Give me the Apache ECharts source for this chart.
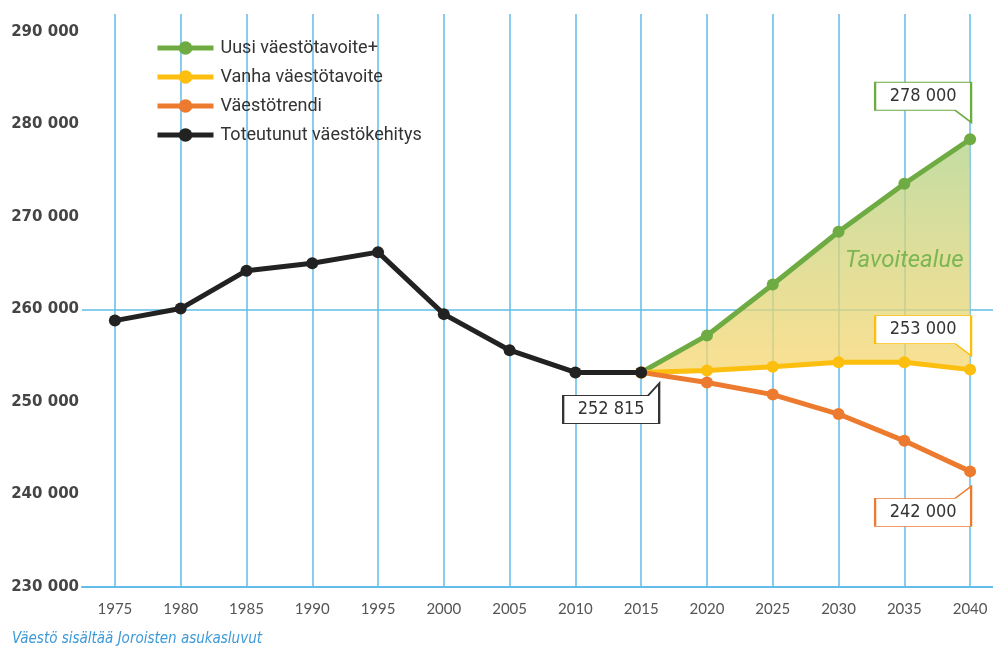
<!DOCTYPE html>
<html lang="fi">
<head>
    <meta charset="UTF-8">
    <title>Väestötavoite</title>
    <script type="text/javascript" src="https://cdn.jsdelivr.net/npm/echarts@6/dist/echarts.min.js"></script>
    <style>
        html, body { margin: 0; padding: 0; background: #fff; }
    </style>
</head>
<body>

    <div id="chart" style="width:993px;height:651px;"></div>

<script type="text/javascript">

    // vuodet (x-akseli)
    var years = ['1975', '1980', '1985', '1990', '1995', '2000', '2005', '2010', '2015', '2020', '2025', '2030', '2035', '2040'];

    // toteutunut kehitys
    var toteutunut = [258800, 260100, 264200, 265000, 266200, 259500, 255600, 253200, 253200, null, null, null, null, null];
    // ennusteet 2015 ->
    var uusiTavoite = [null, null, null, null, null, null, null, null, 253200, 257200, 262700, 268400, 273600, 278400];
    var vanhaTavoite = [null, null, null, null, null, null, null, null, 253200, 253400, 253800, 254300, 254300, 253500];
    var trendi = [null, null, null, null, null, null, null, null, 253200, 252100, 250800, 248700, 245800, 242500];

    // y-akselin tikit
    var yTicks = [230000, 240000, 250000, 260000, 270000, 280000, 290000];

    // puhekuplien arvot
    var calloutValues = [278000, 253000, 242000, 252815];

    var names = ['Uusi väestötavoite+', 'Vanha väestötavoite', 'Väestötrendi', 'Toteutunut väestökehitys'];

    var blue = '#62bde8';
    var narrow = '"DejaVu Sans Condensed", Roboto, sans-serif';

    function fmt(v) {
        return String(v).replace(/\B(?=(\d{3})+(?!\d))/g, ' ');
    }

    // tavoitealue = vihreän ja keltaisen väli (pinottuna)
    var bandBase = vanhaTavoite.map(function (v) { return v; });
    var bandDiff = uusiTavoite.map(function (v, i) {
        return v == null ? null : v - vanhaTavoite[i];
    });

    var tailDown = 'path://M0,0 L96,0 L96,40 L80,28 L0,28 Z';
    var tailUp = 'path://M0,12 L80,12 L96,0 L96,40 L0,40 Z';

    function calloutLabel(idx, labelOffset) {
        return {
            show: true,
            position: 'inside',
            offset: labelOffset,
            formatter: fmt(calloutValues[idx]),
            color: '#333',
            fontFamily: narrow,
            fontSize: 18
        };
    }

    function callout(idx, coordY, color, path, offset, labelOffset) {
        return {
            silent: true,
            animation: false,
            data: [{
                coord: [years.length - 1, coordY],
                symbol: path,
                symbolSize: [96, 40],
                symbolKeepAspect: false,
                symbolOffset: offset,
                itemStyle: { color: '#fff', borderColor: color, borderWidth: 1.5 },
                label: calloutLabel(idx, labelOffset)
            }]
        };
    }

    var dom = document.getElementById('chart');
    var myChart = echarts.init(dom, null, { renderer: 'canvas' });

    var option = {
        animation: false,
        backgroundColor: '#fff',
        grid: {
            left: 82,
            width: 921,
            top: 32,
            bottom: 64,
            outerBoundsMode: 'none',
            containLabel: false
        },
        legend: {
            data: names,
            orient: 'vertical',
            left: 150,
            top: 34,
            itemWidth: 56,
            itemHeight: 17,
            itemGap: 11,
            lineStyle: { width: 5 },
            textStyle: {
                color: '#333',
                fontSize: 18,
                lineHeight: 17,
                fontFamily: 'Roboto, sans-serif',
                padding: [0, 0, 0, 2]
            }
        },
        xAxis: {
            type: 'category',
            data: years,
            boundaryGap: true,
            axisLine: { show: true, lineStyle: { color: blue, width: 2 } },
            axisTick: {
                show: true,
                alignWithLabel: true,
                inside: true,
                length: 573,
                lineStyle: { color: blue, width: 1.5 }
            },
            splitLine: { show: false },
            axisLabel: {
                color: '#555',
                fontSize: 15,
                fontFamily: 'Lato, sans-serif',
                margin: 15
            }
        },
        yAxis: {
            type: 'value',
            min: yTicks[0],
            max: yTicks[yTicks.length - 1],
            interval: 10000,
            axisLine: { show: false },
            axisTick: { show: false },
            splitLine: {
                show: true,
                lineStyle: {
                    // vain 260 000 -viiva näkyy
                    color: yTicks.map(function (t) { return t === 260000 ? blue : 'rgba(0,0,0,0)'; }),
                    width: 1.5
                }
            },
            axisLabel: {
                color: '#454545',
                fontSize: 15,
                fontWeight: 'bold',
                fontFamily: '"DejaVu Sans", sans-serif',
                margin: 3,
                formatter: function (v) { return fmt(v); }
            }
        },
        graphic: [{
            type: 'text',
            left: 12,
            top: 632,
            style: {
                text: 'Väestö sisältää Joroisten asukasluvut',
                fill: '#3d9ad8',
                font: 'italic 15px ' + narrow
            }
        }],
        series: [
            {
                name: 'base',
                type: 'line',
                data: bandBase,
                stack: 'band',
                symbol: 'none',
                lineStyle: { opacity: 0 },
                silent: true,
                z: 1
            },
            {
                name: 'band',
                type: 'line',
                data: bandDiff,
                stack: 'band',
                symbol: 'none',
                lineStyle: { opacity: 0 },
                silent: true,
                z: 1,
                areaStyle: {
                    opacity: 1,
                    color: new echarts.graphic.LinearGradient(0, 0, 0, 1, [
                        { offset: 0, color: 'rgba(180, 212, 140, 0.8)' },
                        { offset: 1, color: 'rgba(248, 214, 110, 0.75)' }
                    ])
                },
                markPoint: {
                    silent: true,
                    data: [{
                        coord: [12, 265200],
                        symbol: 'circle',
                        symbolSize: 0,
                        label: {
                            show: true,
                            position: 'inside',
                            formatter: 'Tavoitealue',
                            color: '#7cb653',
                            fontSize: 24,
                            fontStyle: 'italic',
                            fontFamily: 'Roboto, sans-serif'
                        }
                    }]
                }
            },
            {
                name: names[0],
                type: 'line',
                data: uusiTavoite,
                color: '#6eab43',
                symbol: 'circle',
                symbolSize: 12,
                lineStyle: { width: 5 },
                z: 3,
                markPoint: callout(0, uusiTavoite[13], '#6eab43', tailDown, [-47, -37], [0, -6])
            },
            {
                name: names[1],
                type: 'line',
                data: vanhaTavoite,
                color: '#fdbf0f',
                symbol: 'circle',
                symbolSize: 12,
                lineStyle: { width: 5 },
                z: 3,
                markPoint: callout(1, vanhaTavoite[13], '#fdbf0f', tailDown, [-47, -34], [0, -6])
            },
            {
                name: names[2],
                type: 'line',
                data: trendi,
                color: '#ec7b30',
                symbol: 'circle',
                symbolSize: 12,
                lineStyle: { width: 5 },
                z: 3,
                markPoint: callout(2, trendi[13], '#ec7b30', tailUp, [-47, 35], [0, 6])
            },
            {
                name: names[3],
                type: 'line',
                data: toteutunut,
                color: '#222',
                symbol: 'circle',
                symbolSize: 12,
                lineStyle: { width: 5 },
                z: 4,
                markPoint: {
                    silent: true,
                    data: [{
                        coord: [8, toteutunut[8]],
                        symbol: 'path://M0,12 L85,12 L96,0 L96,40 L0,40 Z',
                        symbolSize: [96, 40],
                        symbolKeepAspect: false,
                        symbolOffset: [-30, 31],
                        itemStyle: { color: '#fff', borderColor: '#333', borderWidth: 1.5 },
                        label: calloutLabel(3, [0, 6])
                    }]
                }
            }
        ]
    };

    if (option && typeof option === "object") {
        myChart.setOption(option, true);
    }

</script>
</body>
</html>
